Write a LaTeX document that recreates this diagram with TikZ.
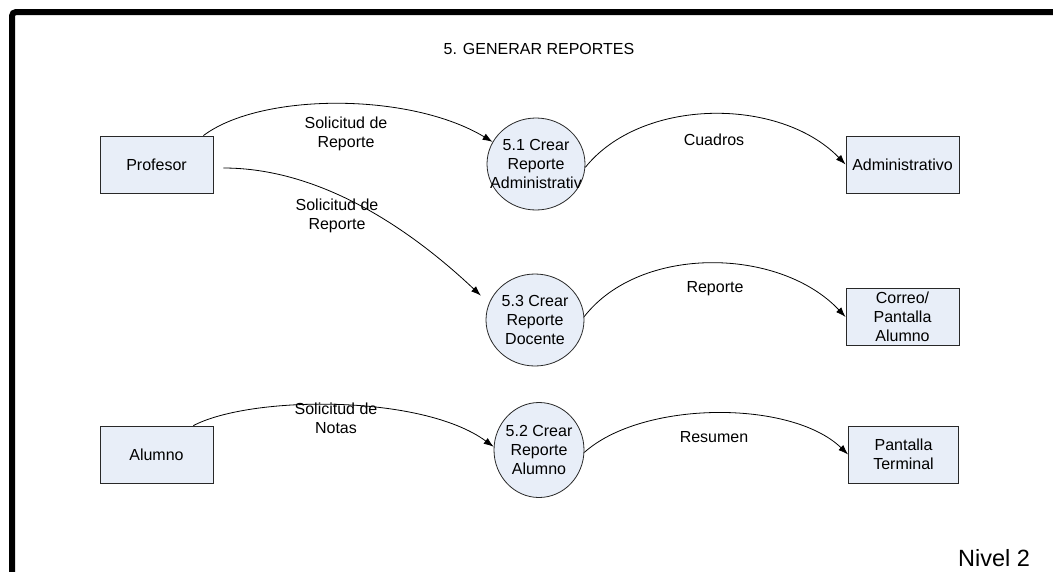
\documentclass[tikz,border=0pt]{standalone}
\usepackage{fontspec}
\setmainfont{Liberation Sans}
\usetikzlibrary{arrows.meta,shapes.geometric}
\definecolor{boxfill}{RGB}{232,238,248}
\definecolor{edgegray}{RGB}{40,40,40}
\begin{document}
\begin{tikzpicture}[x=1pt,y=-1pt,
  every node/.style={font=\fontsize{16}{19}\selectfont, align=center},
  entity/.style={draw=edgegray, line width=0.8pt, fill=boxfill, rectangle,
    minimum width=113pt, minimum height=57pt, inner sep=0pt},
  process/.style={draw=edgegray, line width=0.8pt, fill=boxfill, ellipse,
    minimum width=98pt, minimum height=92pt, inner sep=0pt},
  flow/.style={line width=0.8pt, -{Latex[length=10pt,width=7pt]}},
  flowlabel/.style={inner sep=0pt}]
\useasboundingbox (0,0) rectangle (1053,571);
\fill[white] (0,0) rectangle (1053,571);
\clip (0,0) rectangle (1053,571);

% frame along the top and left edges
\draw[line width=6pt, rounded corners=4pt] (12,620) -- (12,12) -- (1100,12);

% title and level
\node (title) at (539,49) {5. GENERAR REPORTES};
\node (nivel) at (994,558) {\fontsize{23.5}{26}\selectfont Nivel 2};

% external entities
\node[entity] (prof) at (156.5,164.5) {Profesor};
\node[entity] (alu)  at (156.5,454.5) {Alumno};
\node[entity] (adm)  at (902.5,164.5) {Administrativo};
\node[entity] (cor)  at (902.5,317) {Correo/\\Pantalla\\Alumno};
\node[entity, minimum width=110pt] (pant) at (903.5,454.5) {Pantalla\\Terminal};

% processes
\node[process] (c51) at (536,164) {\makebox[0pt]{5.1 Crear}\\\makebox[0pt]{Reporte}\\\makebox[0pt]{Administrativ}};
\node[process] (c53) at (535,320) {\makebox[0pt]{5.3 Crear}\\\makebox[0pt]{Reporte}\\\makebox[0pt]{Docente}};
\node[process, minimum width=90pt, minimum height=95pt] (c52) at (539,450) {\makebox[0pt]{5.2 Crear}\\\makebox[0pt]{Reporte}\\\makebox[0pt]{Alumno}};

% data flows
\draw[flow] ([xshift=-10pt]prof.north east) .. controls +(57,-43) and +(-83,-50) .. (c51.153);
\draw[flow] ([shift={(10pt,-3.5pt)}]prof.east) .. controls +(97,0) and +(-71,-67) .. ([xshift=-12pt]c53.150);
\draw[flow] (c51.-4) .. controls +(56,-70) and +(-66,-68) .. (adm.west);
\draw[flow] (c53.4) .. controls +(56,-72) and +(-66,-70) .. (cor.west);
\draw[flow] ([xshift=-20pt]alu.north east) .. controls +(57,-30) and +(-72,-53) .. (c52.176);
\draw[flow] (c52.-3) .. controls +(58,-52) and +(-57,-55) .. (pant.west);

% flow labels
\node[flowlabel] (l1) at (346,134) {Solicitud de\\Reporte};
\node[flowlabel] (l2) at (337,216) {Solicitud de\\Reporte};
\node[flowlabel] (l3) at (714,140) {Cuadros};
\node[flowlabel] (l4) at (715,289) {Reporte};
\node[flowlabel] (l5) at (336,418) {Solicitud de\\Notas};
\node[flowlabel] (l6) at (714,437) {Resumen};
\end{tikzpicture}
\end{document}
